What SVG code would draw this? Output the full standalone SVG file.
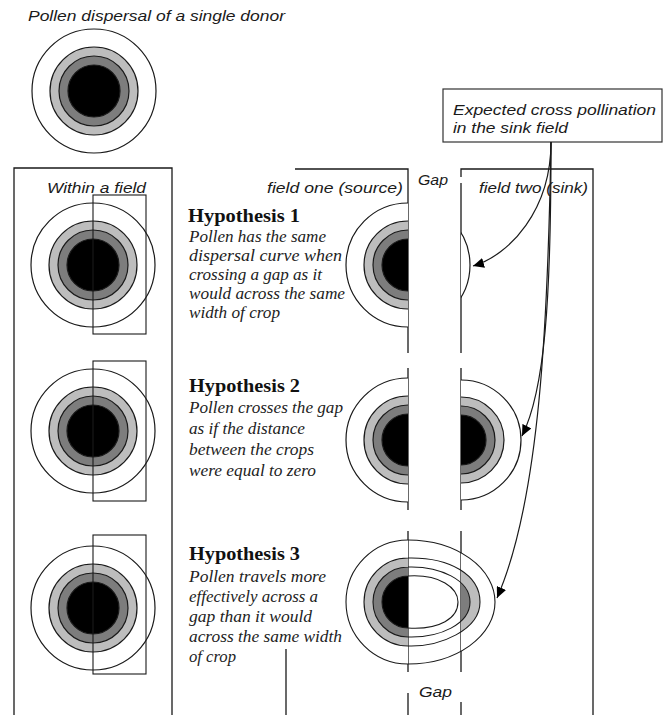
<svg xmlns="http://www.w3.org/2000/svg" width="667" height="715" viewBox="0 0 667 715">
<style>
.ln{fill:none;stroke:#1a1a1a;stroke-width:1.3}
.thin{fill:none;stroke:#1a1a1a;stroke-width:1.1}
.o{fill:#fff;stroke:#1a1a1a;stroke-width:1.2}
.lg{fill:#bdbdbd;stroke:#1a1a1a;stroke-width:1.2}
.dg{fill:#7d7d7d;stroke:#1a1a1a;stroke-width:1.2}
.bk{fill:#000;stroke:#1a1a1a;stroke-width:1.2}
.sans{font-family:"Liberation Sans",Arial,sans-serif;font-style:italic;font-size:15px;fill:#1a1a1a}
.hd{font-family:"Liberation Serif","Times New Roman",serif;font-weight:bold;font-size:19px;fill:#111}
.bd{font-family:"Liberation Serif","Times New Roman",serif;font-style:italic;font-size:16px;fill:#222}
.arr{fill:none;stroke:#1a1a1a;stroke-width:1.2}
</style>
<defs>
<marker id="ah" markerUnits="userSpaceOnUse" markerWidth="12" markerHeight="10" refX="11" refY="5" orient="auto">
<path d="M0,0 L11,5 L0,10 z" fill="#000"/>
</marker>
<clipPath id="nogap"><rect x="0" y="0" width="408" height="715"/><rect x="461" y="0" width="206" height="715"/></clipPath>
<clipPath id="src"><rect x="0" y="0" width="408" height="715"/></clipPath>
<clipPath id="snk"><rect x="461" y="0" width="206" height="715"/></clipPath>
<g id="rings">
<circle r="62" class="o"/><circle r="44" class="lg"/><circle r="35" class="dg"/><circle r="26" class="bk"/>
</g>
</defs>
<rect width="667" height="715" fill="#fff"/>

<g id="donor">
<text class="sans" x="28" y="21" textLength="257" lengthAdjust="spacingAndGlyphs">Pollen dispersal of a single donor</text>
<use href="#rings" x="94" y="91"/>
</g>

<g id="within-field">
<path class="ln" d="M14,715 V168 H172 V715"/>
<text class="sans" x="47" y="193" textLength="99" lengthAdjust="spacingAndGlyphs">Within a field</text>
<use href="#rings" x="93" y="265"/>
<rect class="thin" x="93" y="195" width="53" height="139"/>
<use href="#rings" x="93" y="431"/>
<rect class="thin" x="93" y="361" width="53" height="140"/>
<use href="#rings" x="93" y="608"/>
<rect class="thin" x="93" y="535" width="53" height="139"/>
</g>

<g id="fields">
<path class="ln" d="M295,169 H408 V353 M408,368 V510 M408,531 V672 M408,693 V715"/>
<path class="ln" d="M461,177 V169 H593 V715 M461,183 V353 M461,368 V510 M461,531 V672 M461,702 V715"/>
<path class="ln" d="M286,649 V715"/>
<text class="sans" x="267" y="193" textLength="136" lengthAdjust="spacingAndGlyphs">field one (source)</text>
<text class="sans" x="418" y="185" textLength="30" lengthAdjust="spacingAndGlyphs">Gap</text>
<text class="sans" x="479" y="193" textLength="109" lengthAdjust="spacingAndGlyphs">field two (sink)</text>
<text class="sans" x="419" y="697" textLength="33" lengthAdjust="spacingAndGlyphs">Gap</text>
</g>

<g id="hypothesis1">
<text class="hd" x="188" y="222" textLength="112" lengthAdjust="spacingAndGlyphs">Hypothesis 1</text>
<text class="bd" x="189" y="242" textLength="137" lengthAdjust="spacingAndGlyphs">Pollen has the same</text>
<text class="bd" x="189" y="261" textLength="153" lengthAdjust="spacingAndGlyphs">dispersal curve when</text>
<text class="bd" x="189" y="280" textLength="133" lengthAdjust="spacingAndGlyphs">crossing a gap as it</text>
<text class="bd" x="189" y="299" textLength="156" lengthAdjust="spacingAndGlyphs">would across the same</text>
<text class="bd" x="189" y="318" textLength="91" lengthAdjust="spacingAndGlyphs">width of crop</text>
<g clip-path="url(#nogap)"><use href="#rings" x="408" y="265"/></g>
</g>

<g id="hypothesis2">
<text class="hd" x="189" y="392" textLength="111" lengthAdjust="spacingAndGlyphs">Hypothesis 2</text>
<text class="bd" x="189" y="413" textLength="154" lengthAdjust="spacingAndGlyphs">Pollen crosses the gap</text>
<text class="bd" x="189" y="434" textLength="116" lengthAdjust="spacingAndGlyphs">as if the distance</text>
<text class="bd" x="189" y="455" textLength="125" lengthAdjust="spacingAndGlyphs">between the crops</text>
<text class="bd" x="189" y="476" textLength="127" lengthAdjust="spacingAndGlyphs">were equal to zero</text>
<g clip-path="url(#src)"><use href="#rings" x="408" y="440"/></g>
<g clip-path="url(#snk)">
<circle cx="461" cy="440" r="60" class="o"/><circle cx="461" cy="440" r="43" class="lg"/><circle cx="461" cy="440" r="34" class="dg"/><circle cx="461" cy="440" r="25" class="bk"/>
</g>
</g>

<g id="hypothesis3">
<text class="hd" x="189" y="560" textLength="111" lengthAdjust="spacingAndGlyphs">Hypothesis 3</text>
<text class="bd" x="189" y="582" textLength="137" lengthAdjust="spacingAndGlyphs">Pollen travels more</text>
<text class="bd" x="189" y="602" textLength="129" lengthAdjust="spacingAndGlyphs">effectively across a</text>
<text class="bd" x="189" y="622" textLength="123" lengthAdjust="spacingAndGlyphs">gap than it would</text>
<text class="bd" x="189" y="642" textLength="153" lengthAdjust="spacingAndGlyphs">across the same width</text>
<text class="bd" x="189" y="662" textLength="47" lengthAdjust="spacingAndGlyphs">of crop</text>
<g clip-path="url(#nogap)">
<path fill="#fff" d="M408,540 A62,62 0 0 0 408,664 A87,62 0 0 0 408,540 Z"/>
<path fill="#bdbdbd" d="M408,558 A44,44 0 0 0 408,646 C440,647 480,630 480,602 C480,575 450,557 408,558 Z"/>
<path fill="#7d7d7d" d="M408,567 A35,35 0 0 0 408,637 C440,638 470,624 470,602 C470,580 440,566 408,567 Z"/>
<path fill="#000" d="M408,576 A26,26 0 0 0 408,628 C440,630 458,618 458,602 C458,588 440,574 408,576 Z"/>
</g>
<path class="thin" d="M408,540 A62,62 0 0 0 408,664 A87,62 0 0 0 408,540 Z"/>
<path class="thin" d="M408,558 A44,44 0 0 0 408,646 C440,647 480,630 480,602 C480,575 450,557 408,558 Z"/>
<path class="thin" d="M408,567 A35,35 0 0 0 408,637 C440,638 470,624 470,602 C470,580 440,566 408,567 Z"/>
<path class="thin" d="M408,576 A26,26 0 0 0 408,628 C440,630 458,618 458,602 C458,588 440,574 408,576 Z"/>
</g>

<g id="callout">
<rect x="443" y="89" width="219" height="53" fill="#fff" stroke="#333" stroke-width="1.2"/>
<text class="sans" x="453" y="115" textLength="203" lengthAdjust="spacingAndGlyphs">Expected cross pollination</text>
<text class="sans" x="453" y="133" textLength="115" lengthAdjust="spacingAndGlyphs">in the sink field</text>
</g>

<g id="connectors">
<path class="arr" d="M551,142 C551,210 510,255 473,266" marker-end="url(#ah)"/>
<path class="arr" d="M551,142 C551,300 545,390 522,436" marker-end="url(#ah)"/>
<path class="arr" d="M551,142 C548,320 540,500 497,598" marker-end="url(#ah)"/>
</g>
</svg>
